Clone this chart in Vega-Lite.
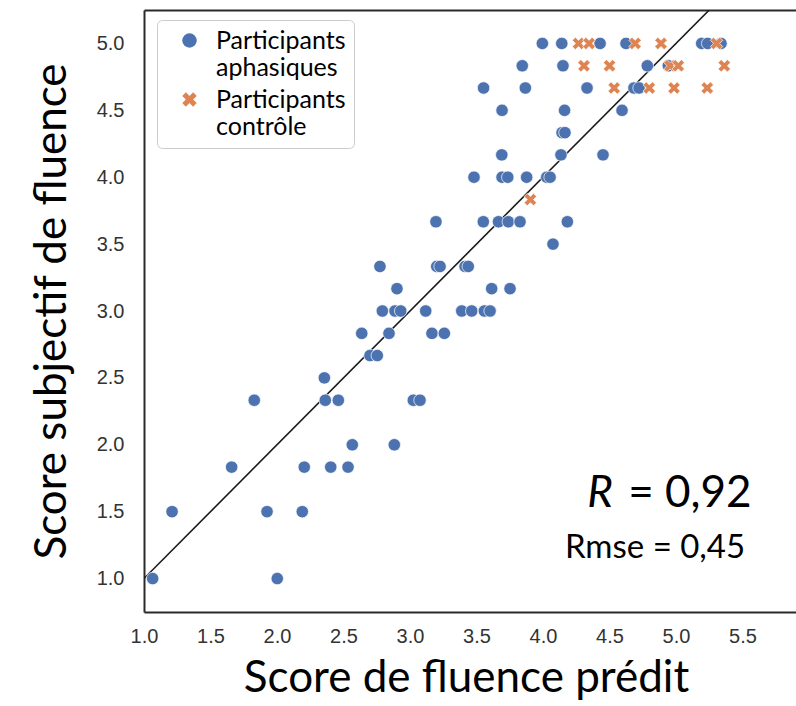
{
  "$schema": "https://vega.github.io/schema/vega-lite/v6.json",
  "width": 652,
  "height": 602,
  "autosize": {"type": "none"},
  "padding": {"left": 144, "top": 10, "right": 0, "bottom": 94},
  "background": "white",
  "config": {"view": {"stroke": null}, "font": "Lato"},
  "datasets": {
    "pts": [
      {"x": 3.995, "y": 5.0, "g": "Participants aphasiques"},
      {"x": 4.141, "y": 5.0, "g": "Participants aphasiques"},
      {"x": 4.429, "y": 5.0, "g": "Participants aphasiques"},
      {"x": 4.624, "y": 5.0, "g": "Participants aphasiques"},
      {"x": 5.193, "y": 5.0, "g": "Participants aphasiques"},
      {"x": 5.238, "y": 5.0, "g": "Participants aphasiques"},
      {"x": 5.338, "y": 5.0, "g": "Participants aphasiques"},
      {"x": 3.844, "y": 4.833, "g": "Participants aphasiques"},
      {"x": 4.150, "y": 4.833, "g": "Participants aphasiques"},
      {"x": 4.784, "y": 4.833, "g": "Participants aphasiques"},
      {"x": 4.942, "y": 4.833, "g": "Participants aphasiques"},
      {"x": 3.553, "y": 4.667, "g": "Participants aphasiques"},
      {"x": 3.867, "y": 4.667, "g": "Participants aphasiques"},
      {"x": 4.331, "y": 4.667, "g": "Participants aphasiques"},
      {"x": 4.684, "y": 4.667, "g": "Participants aphasiques"},
      {"x": 4.722, "y": 4.667, "g": "Participants aphasiques"},
      {"x": 3.692, "y": 4.5, "g": "Participants aphasiques"},
      {"x": 4.162, "y": 4.5, "g": "Participants aphasiques"},
      {"x": 4.594, "y": 4.5, "g": "Participants aphasiques"},
      {"x": 4.143, "y": 4.333, "g": "Participants aphasiques"},
      {"x": 4.165, "y": 4.333, "g": "Participants aphasiques"},
      {"x": 3.690, "y": 4.167, "g": "Participants aphasiques"},
      {"x": 4.135, "y": 4.167, "g": "Participants aphasiques"},
      {"x": 4.451, "y": 4.167, "g": "Participants aphasiques"},
      {"x": 3.481, "y": 4.0, "g": "Participants aphasiques"},
      {"x": 3.692, "y": 4.0, "g": "Participants aphasiques"},
      {"x": 3.735, "y": 4.0, "g": "Participants aphasiques"},
      {"x": 3.877, "y": 4.0, "g": "Participants aphasiques"},
      {"x": 4.028, "y": 4.0, "g": "Participants aphasiques"},
      {"x": 4.053, "y": 4.0, "g": "Participants aphasiques"},
      {"x": 3.195, "y": 3.667, "g": "Participants aphasiques"},
      {"x": 3.551, "y": 3.667, "g": "Participants aphasiques"},
      {"x": 3.665, "y": 3.667, "g": "Participants aphasiques"},
      {"x": 3.739, "y": 3.667, "g": "Participants aphasiques"},
      {"x": 3.827, "y": 3.667, "g": "Participants aphasiques"},
      {"x": 4.183, "y": 3.667, "g": "Participants aphasiques"},
      {"x": 4.075, "y": 3.5, "g": "Participants aphasiques"},
      {"x": 2.774, "y": 3.333, "g": "Participants aphasiques"},
      {"x": 3.201, "y": 3.333, "g": "Participants aphasiques"},
      {"x": 3.226, "y": 3.333, "g": "Participants aphasiques"},
      {"x": 3.414, "y": 3.333, "g": "Participants aphasiques"},
      {"x": 3.438, "y": 3.333, "g": "Participants aphasiques"},
      {"x": 2.902, "y": 3.167, "g": "Participants aphasiques"},
      {"x": 3.614, "y": 3.167, "g": "Participants aphasiques"},
      {"x": 3.752, "y": 3.167, "g": "Participants aphasiques"},
      {"x": 2.792, "y": 3.0, "g": "Participants aphasiques"},
      {"x": 2.887, "y": 3.0, "g": "Participants aphasiques"},
      {"x": 2.930, "y": 3.0, "g": "Participants aphasiques"},
      {"x": 3.118, "y": 3.0, "g": "Participants aphasiques"},
      {"x": 3.389, "y": 3.0, "g": "Participants aphasiques"},
      {"x": 3.464, "y": 3.0, "g": "Participants aphasiques"},
      {"x": 3.559, "y": 3.0, "g": "Participants aphasiques"},
      {"x": 3.602, "y": 3.0, "g": "Participants aphasiques"},
      {"x": 2.637, "y": 2.833, "g": "Participants aphasiques"},
      {"x": 2.842, "y": 2.833, "g": "Participants aphasiques"},
      {"x": 3.165, "y": 2.833, "g": "Participants aphasiques"},
      {"x": 3.258, "y": 2.833, "g": "Participants aphasiques"},
      {"x": 2.699, "y": 2.667, "g": "Participants aphasiques"},
      {"x": 2.754, "y": 2.667, "g": "Participants aphasiques"},
      {"x": 2.356, "y": 2.5, "g": "Participants aphasiques"},
      {"x": 1.829, "y": 2.333, "g": "Participants aphasiques"},
      {"x": 2.363, "y": 2.333, "g": "Participants aphasiques"},
      {"x": 2.461, "y": 2.333, "g": "Participants aphasiques"},
      {"x": 3.025, "y": 2.333, "g": "Participants aphasiques"},
      {"x": 3.075, "y": 2.333, "g": "Participants aphasiques"},
      {"x": 2.566, "y": 2.0, "g": "Participants aphasiques"},
      {"x": 2.882, "y": 2.0, "g": "Participants aphasiques"},
      {"x": 1.659, "y": 1.833, "g": "Participants aphasiques"},
      {"x": 2.205, "y": 1.833, "g": "Participants aphasiques"},
      {"x": 2.404, "y": 1.833, "g": "Participants aphasiques"},
      {"x": 2.534, "y": 1.833, "g": "Participants aphasiques"},
      {"x": 1.211, "y": 1.5, "g": "Participants aphasiques"},
      {"x": 1.925, "y": 1.5, "g": "Participants aphasiques"},
      {"x": 2.190, "y": 1.5, "g": "Participants aphasiques"},
      {"x": 1.065, "y": 1.0, "g": "Participants aphasiques"},
      {"x": 2.002, "y": 1.0, "g": "Participants aphasiques"},
      {"x": 4.267, "y": 5.0, "g": "Participants contrôle"},
      {"x": 4.346, "y": 5.0, "g": "Participants contrôle"},
      {"x": 4.692, "y": 5.0, "g": "Participants contrôle"},
      {"x": 4.887, "y": 5.0, "g": "Participants contrôle"},
      {"x": 5.305, "y": 5.0, "g": "Participants contrôle"},
      {"x": 4.308, "y": 4.833, "g": "Participants contrôle"},
      {"x": 4.500, "y": 4.833, "g": "Participants contrôle"},
      {"x": 4.955, "y": 4.833, "g": "Participants contrôle"},
      {"x": 5.017, "y": 4.833, "g": "Participants contrôle"},
      {"x": 5.363, "y": 4.833, "g": "Participants contrôle"},
      {"x": 4.535, "y": 4.667, "g": "Participants contrôle"},
      {"x": 4.799, "y": 4.667, "g": "Participants contrôle"},
      {"x": 4.985, "y": 4.667, "g": "Participants contrôle"},
      {"x": 5.235, "y": 4.667, "g": "Participants contrôle"},
      {"x": 3.905, "y": 3.833, "g": "Participants contrôle"}
    ],
    "diag": [
      {"x": 1.0, "y": 1.0},
      {"x": 5.25, "y": 5.25}
    ],
    "ann": [
      {"x": 4.526, "y": 1.632, "t": "R", "k": "r"},
      {"x": 4.640, "y": 1.632, "t": "= 0,92", "k": "v"},
      {"x": 4.842, "y": 1.228, "t": "Rmse = 0,45", "k": "m"}
    ]
  },
  "resolve": {"axis": {"x": "independent"}},
  "layer": [
    {
      "data": {"name": "diag"},
      "mark": {"type": "line", "color": "#1a1a1a", "strokeWidth": 1.6, "clip": true},
      "encoding": {
        "x": {"field": "x", "type": "quantitative", "scale": {"domain": [1, 5.902], "nice": false, "zero": false},
          "axis": {"orient": "top", "labels": false, "ticks": false, "grid": false, "title": null, "domainColor": "#2a2a2a", "domainWidth": 2}},
        "y": {"field": "y", "type": "quantitative", "scale": {"domain": [0.75, 5.25], "nice": false, "zero": false},
          "axis": {"values": [1, 1.5, 2, 2.5, 3, 3.5, 4, 4.5, 5], "format": ".1f", "title": "Score subjectif de fluence",
            "ticks": false, "grid": false, "domainColor": "#2a2a2a", "domainWidth": 2, "labelFlush": false,
            "labelFont": "Liberation Sans", "labelFontSize": 20, "labelColor": "#333", "labelPadding": 20,
            "titleFont": "Lato", "titleFontSize": 44, "titleFontWeight": "normal", "titleColor": "#000", "titlePadding": 22}}
      }
    },
    {
      "data": {"name": "pts"},
      "mark": {"type": "point", "filled": true, "opacity": 1, "size": 155, "stroke": "white", "strokeWidth": 0.7},
      "encoding": {
        "x": {"field": "x", "type": "quantitative",
          "axis": {"values": [1, 1.5, 2, 2.5, 3, 3.5, 4, 4.5, 5, 5.5], "format": ".1f", "title": "Score de fluence prédit", "titleX": 322,
            "ticks": false, "grid": false, "domainColor": "#2a2a2a", "domainWidth": 2, "labelFlush": false,
            "labelFont": "Liberation Sans", "labelFontSize": 20, "labelColor": "#333", "labelPadding": 14,
            "titleFont": "Lato", "titleFontSize": 44, "titleFontWeight": "normal", "titleColor": "#000", "titlePadding": 10}},
        "y": {"field": "y", "type": "quantitative"},
        "color": {"field": "g", "type": "nominal",
          "scale": {"domain": ["Participants aphasiques", "Participants contrôle"], "range": ["#4c72b0", "#dd8452"]},
          "legend": {"orient": "none", "legendX": 13, "legendY": 10, "title": null,
            "labelExpr": "[split(datum.label, ' ')[0] + '\u00a0\u00a0\u00a0\u00a0', split(datum.label, ' ')[1]]",
            "labelFont": "Lato", "labelFontSize": 25, "labelColor": "#000", "labelLimit": 400,
            "symbolSize": 210, "symbolStrokeWidth": 0, "symbolOffset": 12, "labelOffset": 14,
            "padding": 8, "rowPadding": 6, "fillColor": "#ffffff", "strokeColor": "#cccccc", "cornerRadius": 5,
            "encode": {"labels": {"update": {"lineHeight": {"value": 26}}}}}},
        "shape": {"field": "g", "type": "nominal",
          "scale": {"domain": ["Participants aphasiques", "Participants contrôle"], "range": ["circle", "M-1,-0.5L-0.5,-1L0,-0.5L0.5,-1L1,-0.5L0.5,0L1,0.5L0.5,1L0,0.5L-0.5,1L-1,0.5L-0.5,0Z"]},
          "legend": {"orient": "none", "legendX": 13, "legendY": 10, "title": null,
            "labelExpr": "[split(datum.label, ' ')[0] + '\u00a0\u00a0\u00a0\u00a0', split(datum.label, ' ')[1]]",
            "labelFont": "Lato", "labelFontSize": 25, "labelColor": "#000", "labelLimit": 400,
            "symbolSize": 210, "symbolStrokeWidth": 0, "symbolOffset": 12, "labelOffset": 14,
            "padding": 8, "rowPadding": 6, "fillColor": "#ffffff", "strokeColor": "#cccccc", "cornerRadius": 5,
            "encode": {"labels": {"update": {"lineHeight": {"value": 26}}}}}}
      }
    },
    {
      "data": {"name": "ann"},
      "transform": [{"filter": "datum.k == 'r'"}],
      "mark": {"type": "text", "font": "Lato", "fontSize": 44, "fontStyle": "italic", "align": "right", "baseline": "middle", "color": "#000"},
      "encoding": {
        "x": {"field": "x", "type": "quantitative", "axis": null},
        "y": {"field": "y", "type": "quantitative"},
        "text": {"field": "t"}
      }
    },
    {
      "data": {"name": "ann"},
      "transform": [{"filter": "datum.k == 'v'"}],
      "mark": {"type": "text", "font": "Lato", "fontSize": 44, "align": "left", "baseline": "middle", "color": "#000"},
      "encoding": {
        "x": {"field": "x", "type": "quantitative", "axis": null},
        "y": {"field": "y", "type": "quantitative"},
        "text": {"field": "t"}
      }
    },
    {
      "data": {"name": "ann"},
      "transform": [{"filter": "datum.k == 'm'"}],
      "mark": {"type": "text", "font": "Lato", "fontSize": 33, "align": "center", "baseline": "middle", "color": "#000"},
      "encoding": {
        "x": {"field": "x", "type": "quantitative", "axis": null},
        "y": {"field": "y", "type": "quantitative"},
        "text": {"field": "t"}
      }
    }
  ]
}
